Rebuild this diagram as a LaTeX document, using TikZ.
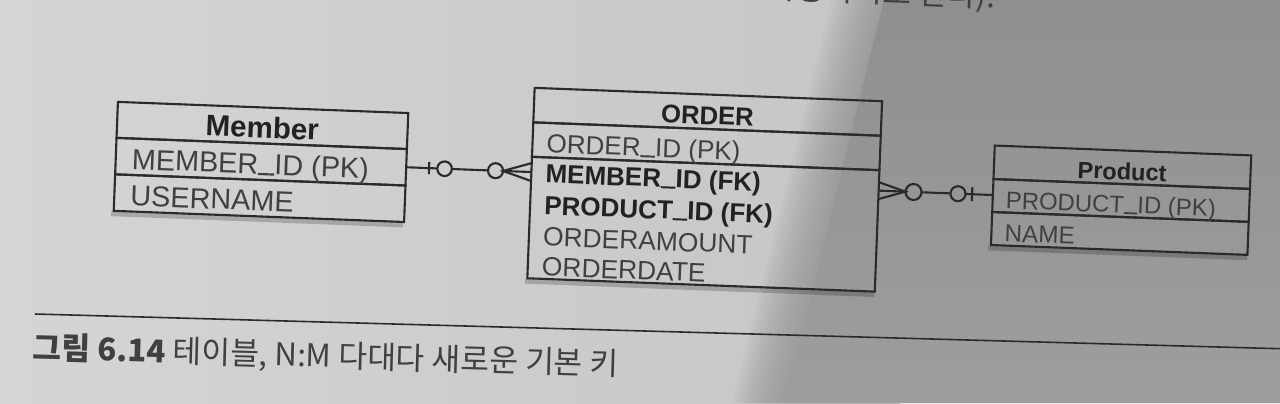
\documentclass[tikz,border=0pt]{standalone}
\usepackage{fontspec}
\setmainfont{Liberation Sans}
\newfontfamily\kr{Noto Sans CJK KR}
\definecolor{paperA}{HTML}{D5D5D5}
\definecolor{paperB}{HTML}{C6C6C6}
\definecolor{paperD}{HTML}{8F8F8F}
\definecolor{paperE}{HTML}{9E9E9E}
\definecolor{ink}{HTML}{2A2A2A}
\definecolor{txt}{HTML}{404040}
\definecolor{txtb}{HTML}{222222}
\def\pxu{0.28453pt}
\newcommand\usc{\rule[-0.03em]{0.56em}{0.075em}}
\begin{document}
\begin{tikzpicture}[x=0.01cm,y=-0.01cm,
  cell/.style={draw=ink, line width=0.6pt, rectangle, inner sep=0pt, outer sep=0pt},
  fld/.style={text=txt, inner sep=0pt, anchor=west, text height=0.716em, text depth=0pt},
  hdr/.style={text=txtb, inner sep=0pt, text height=0.716em, text depth=0pt},
  fk/.style={fld, text=txtb},
  conn/.style={draw=ink, line width=0.6pt},
  ocirc/.style={circle, draw=ink, line width=0.6pt, inner sep=0pt, outer sep=0pt},
  shad/.style={draw=black, opacity=0.2, line width=1.4pt},
  capt/.style={inner sep=0pt, text=txt, font=\kr\fontsize{8.9}{10}\selectfont},
]
\useasboundingbox (0,0) rectangle (1280,403);
% paper
\shade[left color=paperA, right color=paperB] (0,0) rectangle (900,403);
\foreach \e in {832,836,...,880}
  \fill[paperD, opacity=0.08] (\e,0) -- (1280,0) -- (1280,403) -- (\e-100,403) -- cycle;
\shade[top color=paperD, bottom color=paperE] (884,0) -- (1280,0) -- (1280,403) -- (784,403) -- cycle;

% partial text of the page above (cut by the top edge)
\node[capt, anchor=base west, rotate=-2.3] (toptext) at (731,-3) {는 사용하기로 한다).};

\begin{scope}[rotate around={-2.2:(640,200)}, transform shape]
  % shadows
  \draw[shad] (112,234) -- (404,234);
  \draw[shad] (528,285.5) -- (878,285.5);
  \draw[shad] (990,234.5) -- (1249,234.5);

  % Member
  \node[cell, minimum width=290.4*\pxu, minimum height=36*\pxu] (mhead) at (259.8,140) {};
  \node[cell, minimum width=290.4*\pxu, minimum height=36.5*\pxu] (mrow1) at (259.8,176.25) {};
  \node[cell, minimum width=290.4*\pxu, minimum height=36.5*\pxu] (mrow2) at (259.8,212.75) {};
  \node[hdr, font=\fontsize{8.4}{10}\selectfont\bfseries] (mheadt) at (mhead) {Member};
  \node[fld, font=\fontsize{8.2}{10}\selectfont] (mf1) at (130,176.25) {MEMBER\usc ID (PK)};
  \node[fld, font=\fontsize{8.2}{10}\selectfont] (mf2) at (130,212.75) {USERNAME};

  % ORDER
  \node[cell, minimum width=347.5*\pxu, minimum height=34.5*\pxu] (ohead) at (704.25,109.25) {};
  \node[cell, minimum width=347.5*\pxu, minimum height=34.5*\pxu] (orow1) at (704.25,143.75) {};
  \node[cell, minimum width=347.5*\pxu, minimum height=121.5*\pxu] (obody) at (704.25,221.75) {};
  \node[hdr, font=\fontsize{7.3}{9}\selectfont\bfseries] (oheadt) at (ohead) {ORDER};
  \node[fld, font=\fontsize{7.4}{9}\selectfont] (of1) at (544,143.75) {ORDER\usc ID (PK)};
  \node[fk, font=\fontsize{7.4}{9}\selectfont\bfseries] (of2) at (544,174) {MEMBER\usc ID (FK)};
  \node[fk, font=\fontsize{7.4}{9}\selectfont\bfseries] (of3) at (544,205.5) {PRODUCT\usc ID (FK)};
  \node[fld, font=\fontsize{7.5}{9}\selectfont] (of4) at (544,237) {ORDERAMOUNT};
  \node[fld, font=\fontsize{7.5}{9}\selectfont] (of5) at (544,267) {ORDERDATE};

  % Product
  \node[cell, minimum width=256.5*\pxu, minimum height=33.5*\pxu] (phead) at (1120.75,148.75) {};
  \node[cell, minimum width=256.5*\pxu, minimum height=33*\pxu] (prow1) at (1120.75,182) {};
  \node[cell, minimum width=256.5*\pxu, minimum height=33*\pxu] (prow2) at (1120.75,215) {};
  \node[hdr, font=\fontsize{6.7}{8}\selectfont\bfseries] (pheadt) at (phead) {Product};
  \node[fld, font=\fontsize{6.8}{8}\selectfont] (pf1) at (1005,182) {PRODUCT\usc ID (PK)};
  \node[fld, font=\fontsize{6.9}{8}\selectfont] (pf2) at (1005,215) {NAME};

  % Member -- ORDER : one (optional) to many (optional)
  \coordinate (lbt) at (428,170.25);
  \coordinate (lbb) at (428,182.25);
  \node[ocirc, minimum size=14.6*\pxu] (lc1) at (443.5,176.25) {};
  \node[ocirc, minimum size=15*\pxu] (lc2) at (494.5,176.25) {};
  \coordinate (lap) at (502,176.25);
  \coordinate (oLt) at (530.5,167.25);
  \coordinate (oL) at (530.5,176.25);
  \coordinate (oLb) at (530.5,185.25);
  \draw[conn] (mrow1.east) -- (lc1);
  \draw[conn] (lbt) -- (lbb);
  \draw[conn] (lc1) -- (lc2);
  \draw[conn] (oLt) -- (lap) -- (oLb);
  \draw[conn] (lap) -- (oL);

  % ORDER -- Product
  \coordinate (oRt) at (878,173);
  \coordinate (oR) at (878,181.5);
  \coordinate (oRb) at (878,190);
  \coordinate (rap) at (905,181.5);
  \node[ocirc, minimum size=16*\pxu] (rc1) at (913,181.5) {};
  \node[ocirc, minimum size=15*\pxu] (rc2) at (957.5,181.5) {};
  \coordinate (rbt) at (971.7,174.5);
  \coordinate (rbb) at (971.7,188.5);
  \coordinate (pL) at (992.5,181.5);
  \draw[conn] (oRt) -- (rap) -- (oRb);
  \draw[conn] (oR) -- (rap);
  \draw[conn] (rc1) -- (rc2);
  \draw[conn] (rc2) -- (pL);
  \draw[conn] (rbt) -- (rbb);
\end{scope}

% caption
\coordinate (cl) at (35,314);
\coordinate (cr) at (1280,348.7);
\draw[ink, line width=0.45pt] (cl) -- (cr);
\node[capt, anchor=base west, rotate=-1.6] (cap) at (32,359) {{\bfseries 그림 6.14} 테이블, N:M 다대다 새로운 기본 키};
\end{tikzpicture}
\end{document}
